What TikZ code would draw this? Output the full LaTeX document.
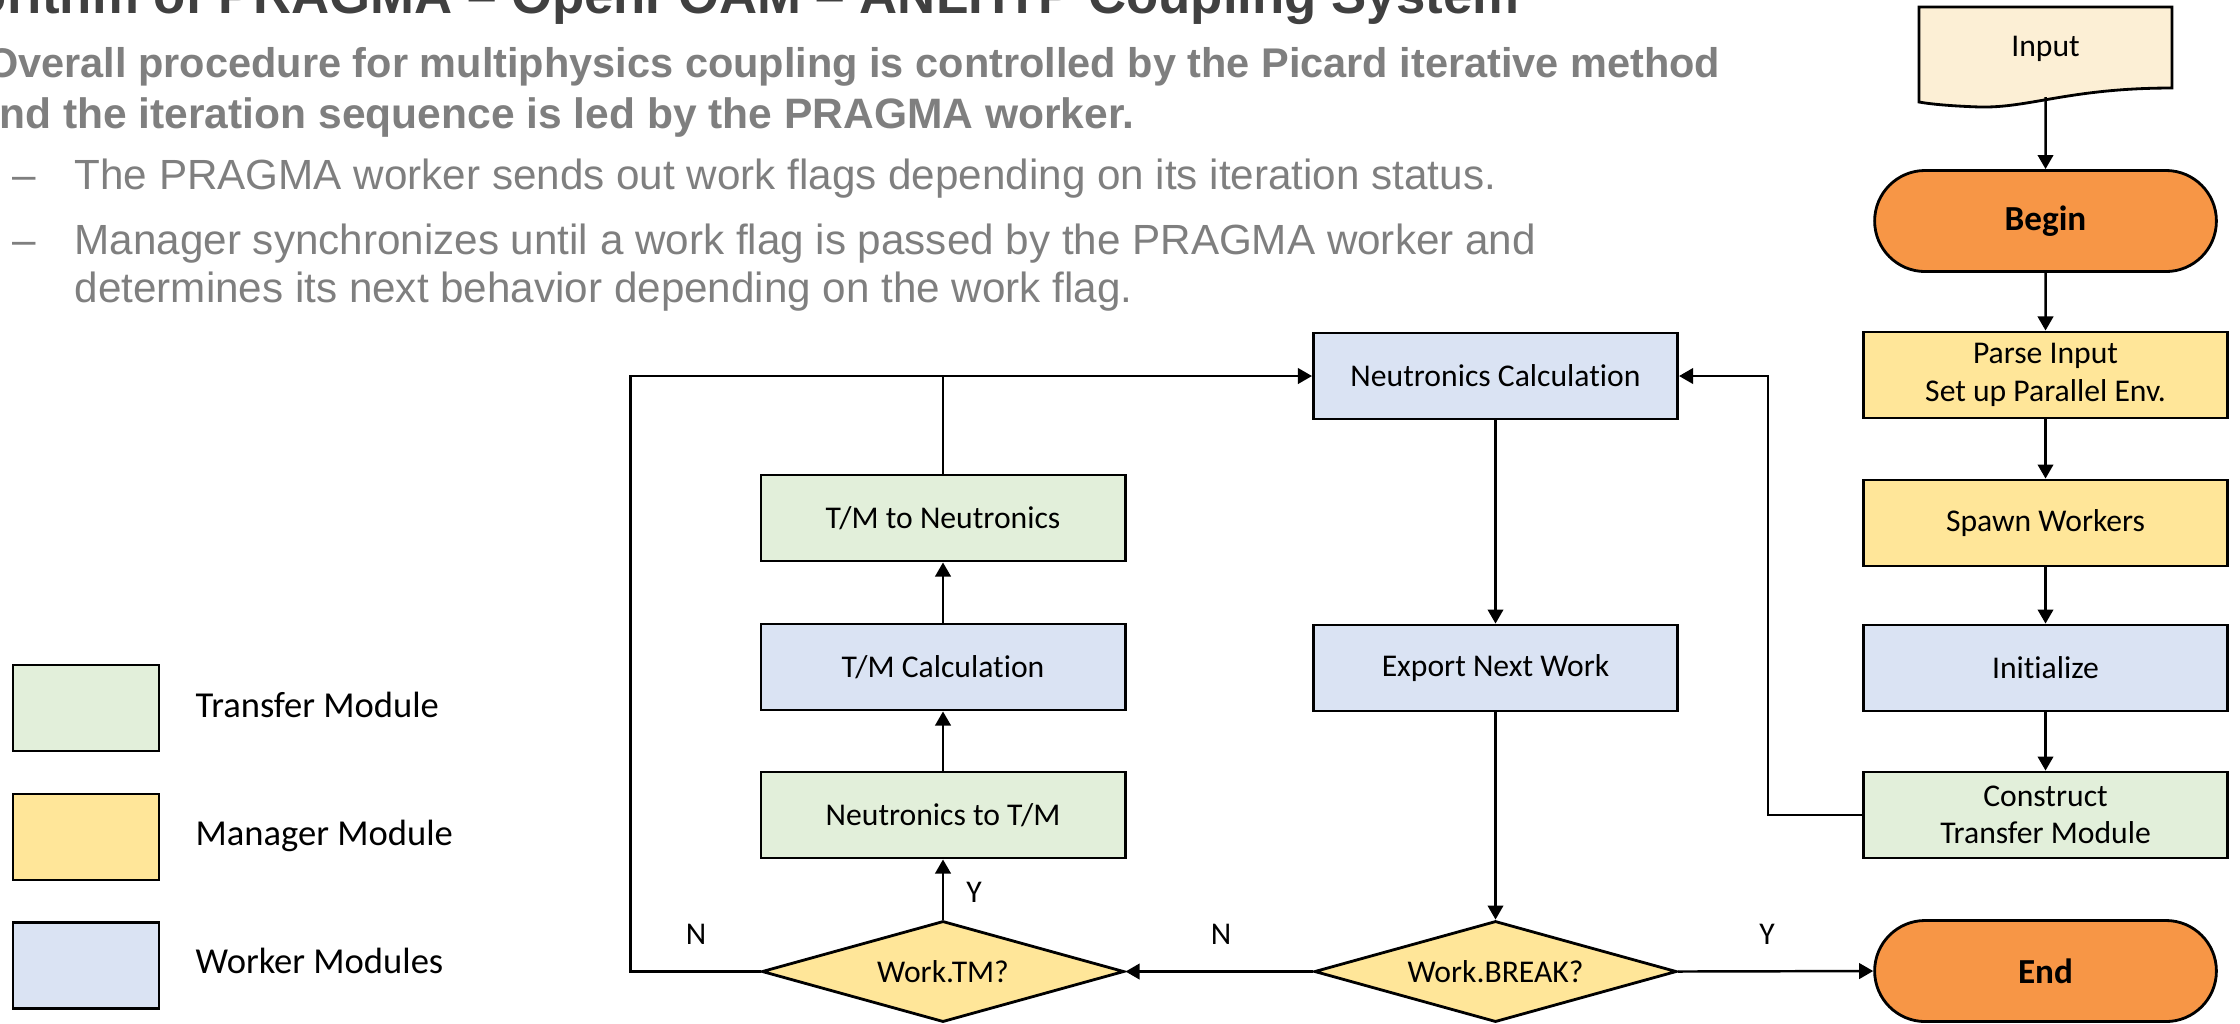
\documentclass[tikz,border=0pt]{standalone}
\usepackage{fontspec}
\setmainfont{Carlito}[Ligatures=NoCommon]
\newfontfamily\arialfont{Liberation Sans}
\usetikzlibrary{positioning,shapes.geometric,shapes.misc,arrows.meta}
\definecolor{tmgreen}{HTML}{E2EFDA}
\definecolor{mgyellow}{HTML}{FFE699}
\definecolor{wkblue}{HTML}{DAE3F3}
\definecolor{termorange}{HTML}{F79646}
\definecolor{inputfill}{HTML}{FCEFD5}
\definecolor{bodygray}{HTML}{7F7F7F}
\definecolor{headgray}{HTML}{404040}

\begin{document}
\begin{tikzpicture}[x=0.01cm, y=-0.01cm,
  box/.style={draw, line width=0.8pt, minimum width=3.64cm, minimum height=0.86cm, align=center, font=\fontsize{9}{10.6}\selectfont},
  transfer/.style={box, fill=tmgreen},
  manager/.style={box, fill=mgyellow},
  worker/.style={box, fill=wkblue},
  terminal/.style={rounded rectangle, draw, line width=0.8pt, fill=termorange, minimum width=3.65cm, minimum height=1.01cm, font=\fontsize{10}{12}\selectfont\bfseries},
  decision/.style={diamond, draw, line width=0.8pt, fill=mgyellow, aspect=3.5, inner sep=0pt, minimum width=3.62cm, minimum height=1.01cm, font=\fontsize{9}{10.6}\selectfont},
  arr/.style={line width=0.7pt, -{Triangle[length=4pt,width=4.4pt]}},
  link/.style={line width=0.7pt},
  yn/.style={font=\fontsize{9}{10.6}\selectfont},
  legendtext/.style={anchor=base west, inner sep=0pt, font=\fontsize{10.4}{12}\selectfont},
  bold line/.style={anchor=base east, inner sep=0pt, text=bodygray, font=\arialfont\fontsize{11.8}{14}\selectfont\bfseries},
  bullet line/.style={anchor=base west, inner sep=0pt, text=bodygray, font=\arialfont\fontsize{12}{14}\selectfont}]
\useasboundingbox (0,0) rectangle (2240,1023);
\clip (0,0) rectangle (2240,1023);

\node[anchor=base east, inner sep=0pt, text=headgray, font=\arialfont\fontsize{15}{18}\selectfont\bfseries] (title) at (1520,13) {Algorithm of PRAGMA – OpenFOAM – ANLHTP Coupling System};
\node[bold line] (intro1) at (1721,77) {Overall procedure for multiphysics coupling is controlled by the Picard iterative method};
\node[bold line, font=\arialfont\fontsize{12.1}{14}\selectfont\bfseries] (intro2) at (1135,128) {and the iteration sequence is led by the PRAGMA worker.};
\node[bullet line] (dash1) at (12,189) {–};
\node[bullet line] (item1) at (74,189) {The PRAGMA worker sends out work flags depending on its iteration status.};
\node[bullet line] (dash2) at (12,254) {–};
\node[bullet line] (item2) at (74,254) {Manager synchronizes until a work flag is passed by the PRAGMA worker and};
\node[bullet line] (item2b) at (74,302) {determines its next behavior depending on the work flag.};

\filldraw[fill=inputfill, line width=0.8pt] (1919,7) -- (2172,7) -- (2172,88) .. controls (2070,88) and (2030,108) .. (1980,107) .. controls (1950,106) and (1930,104) .. (1919,102) -- cycle;
\node[font=\fontsize{9}{10.6}\selectfont] (inp) at (2045.5,49) {Input};
\coordinate (inpout) at (2045.5,97);

\node[terminal] (begin) at (2045.5,221) {Begin};
\node[manager] (parse) at (2045.5,375) {Parse Input\\Set up Parallel Env.};
\node[manager] (spawn) at (2045.5,523) {Spawn Workers};
\node[worker] (init) at (2045.5,668) {Initialize};
\node[transfer] (construct) at (2045.5,815) {Construct\\Transfer Module};
\node[terminal] (stop) at (2045.5,971) {End};

\node[worker] (ncalc) at (1495.5,376) {Neutronics Calculation};
\node[worker] (export) at (1495.5,668) {Export Next Work};
\node[decision] (wbreak) at (1495.5,971.5) {Work.BREAK?};

\node[transfer] (tm2n) at (943,518) {T/M to Neutronics};
\node[worker] (tmcalc) at (943,667) {T/M Calculation};
\node[transfer] (n2tm) at (943,815) {Neutronics to T/M};
\node[decision] (wtm) at (943,971.5) {Work.TM?};

\draw[arr] (inpout) -- (begin);
\draw[arr] (begin) -- (parse);
\draw[arr] (parse) -- (spawn);
\draw[arr] (spawn) -- (init);
\draw[arr] (init) -- (construct);
\draw[arr] (construct.west) -- ++(-94,0) |- (ncalc.east);
\draw[arr] (ncalc) -- (export);
\draw[arr] (export) -- (wbreak);
\draw[arr] (wbreak.east) -- (stop.west);
\draw[arr] (wbreak.west) -- (wtm.east);
\draw[arr] (wtm.north) -- (n2tm.south);
\draw[arr] (n2tm) -- (tmcalc);
\draw[arr] (tmcalc) -- (tm2n);
\draw[arr] (wtm.west) -- ++(-130,0) |- (ncalc.west);
\draw[link] (tm2n.north) -- (tm2n.north |- ncalc.west);

\node[yn] (ylab1) at (974,892) {Y};
\node[yn] (nlab1) at (696,934) {N};
\node[yn] (nlab2) at (1221,934) {N};
\node[yn] (ylab2) at (1767,934) {Y};

\node[transfer, minimum width=1.46cm] (lgt) at (86,708) {};
\node[manager, minimum width=1.46cm] (lgm) at (86,837) {};
\node[worker, minimum width=1.46cm] (lgw) at (86,965.5) {};
\node[legendtext] (lgttext) at (195,717) {Transfer Module};
\node[legendtext] (lgmtext) at (195,845) {Manager Module};
\node[legendtext] (lgwtext) at (195,973) {Worker Modules};
\end{tikzpicture}
\end{document}
